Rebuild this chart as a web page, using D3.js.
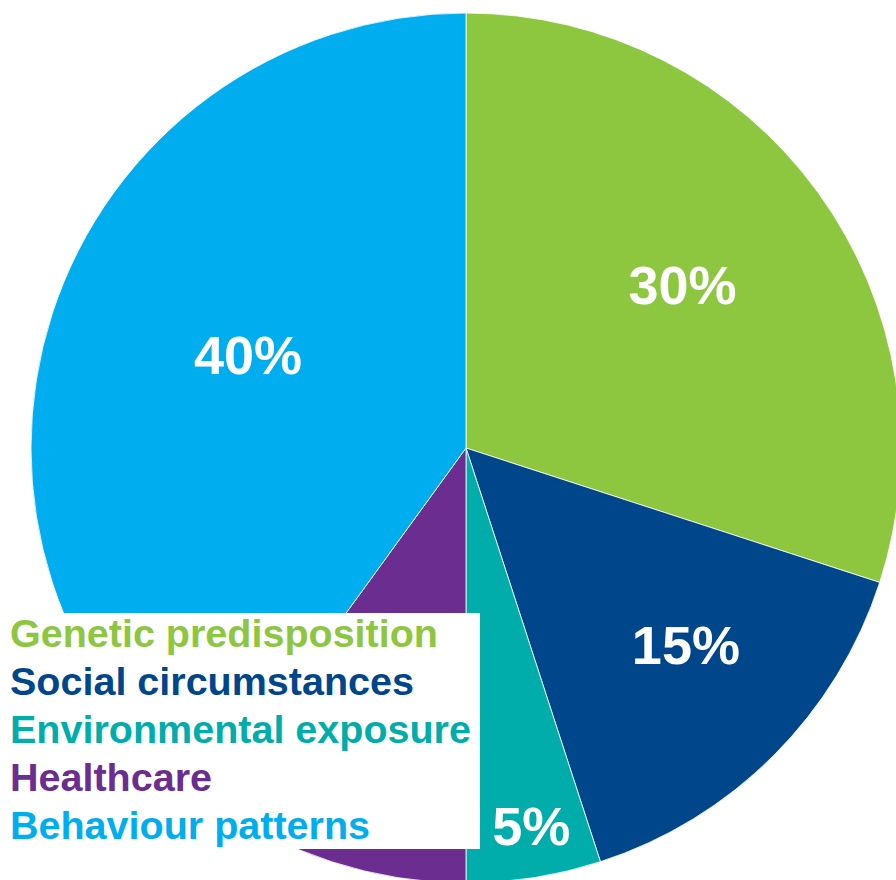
<!DOCTYPE html>
<html>
<head>
<meta charset="utf-8">
<script src="https://cdn.jsdelivr.net/npm/d3@7"></script>
<style>
  html, body { margin: 0; padding: 0; background: #fff; }
  svg { display: block; font-family: "Liberation Sans", Arial, sans-serif; }
</style>
</head>
<body>
<div id="chart"></div>
<script>
// data
const categories = ["Genetic predisposition", "Social circumstances", "Environmental exposure", "Healthcare", "Behaviour patterns"];
const shares = [30, 15, 5, 10, 40];
const colors = ["#8dc63f", "#00468b", "#00adab", "#6b2d90", "#00adee"];

// layout
const width = 896, height = 880;
const cx = 466, cy = 448, radius = 435;
// label placement: radius from centre and small angle nudge (degrees); null = hidden behind legend
const labelRadius = [271, 295, 383, null, 237];
const labelNudge = [-1, -3.2, -0.8, 0, 5.1];

const svg = d3.select("#chart").append("svg")
    .attr("width", width)
    .attr("height", height);

const pie = d3.pie().sort(null).value(d => d);
const arcs = pie(shares);

const arc = d3.arc().innerRadius(0).outerRadius(radius);

const g = svg.append("g")
    .attr("transform", `translate(${cx},${cy})`);

g.selectAll("path")
    .data(arcs)
    .enter()
    .append("path")
    .attr("d", arc)
    .attr("fill", (d, i) => colors[i])
    .attr("stroke", "#fff")
    .attr("stroke-width", 0.8);

const labelled = arcs.filter((d, i) => labelRadius[i] !== null);

g.selectAll("text.pct")
    .data(labelled)
    .enter()
    .append("text")
    .attr("class", "pct")
    .attr("transform", d => {
        const r = labelRadius[d.index];
        const a = (d.startAngle + d.endAngle) / 2 + labelNudge[d.index] * Math.PI / 180;
        return `translate(${r * Math.sin(a)},${-r * Math.cos(a)})`;
    })
    .attr("text-anchor", "middle")
    .attr("dy", "0.36em")
    .attr("fill", "#fff")
    .style("font-weight", "bold")
    .style("font-size", "54px")
    .text(d => d.data + "%");

// legend box
const legend = svg.append("g");
legend.append("rect")
    .attr("x", 0)
    .attr("y", 613)
    .attr("width", 480)
    .attr("height", 236)
    .attr("fill", "#fff");

legend.selectAll("text")
    .data(categories)
    .enter()
    .append("text")
    .attr("x", 10)
    .attr("y", (d, i) => 647 + i * 48)
    .attr("fill", (d, i) => colors[i])
    .style("font-weight", "bold")
    .style("font-size", "39.5px")
    .text(d => d);
</script>
</body>
</html>
